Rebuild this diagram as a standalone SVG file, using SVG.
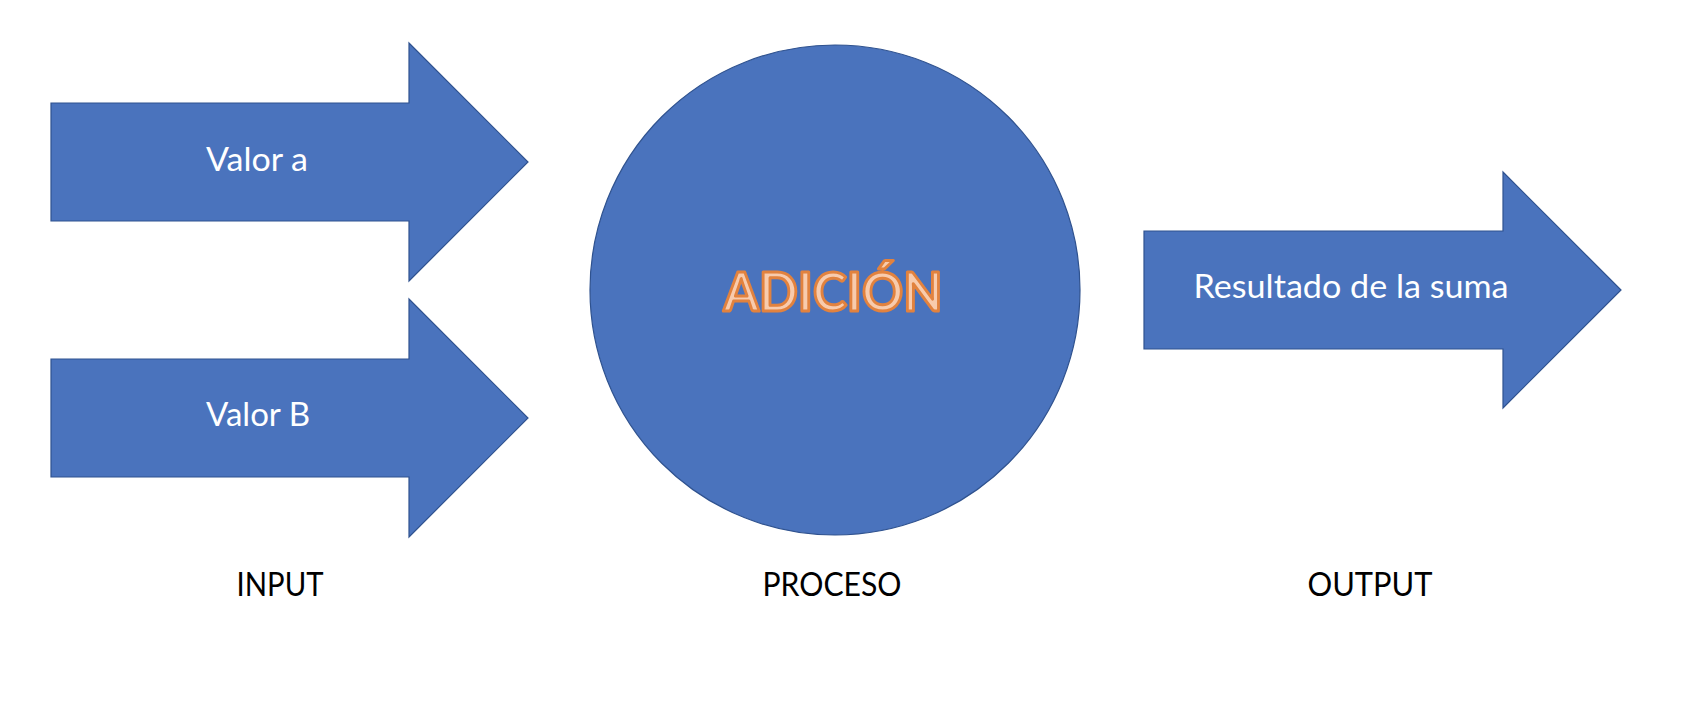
<svg xmlns="http://www.w3.org/2000/svg" width="1696" height="702" viewBox="0 0 1696 702">
  <style>
    .shape { fill: #4A73BD; stroke: #2F528F; stroke-width: 1.2; }
    .inner { font-family: Lato, "Open Sans", "Liberation Sans", sans-serif; font-size: 32px; fill: #FFFFFF; text-anchor: middle; }
    .caption { font-family: Lato, "Open Sans", "Liberation Sans", sans-serif; font-size: 32px; fill: #000000; text-anchor: middle; }
    .title { font-family: Lato, "Open Sans", "Liberation Sans", sans-serif; font-weight: bold; font-size: 54px; fill: #F8CBAD; stroke: #E2823E; stroke-width: 3; stroke-linejoin: round; text-anchor: middle; }
  </style>
  <rect width="1696" height="702" fill="#FFFFFF"/>

  <!-- input arrow A -->
  <g id="valor-a">
    <path class="shape" d="M51,103 H409 V43 L528,162 L409,281 V221 H51 Z"/>
    <text class="inner" x="257" y="171" textLength="102" lengthAdjust="spacingAndGlyphs">Valor a</text>
  </g>

  <!-- input arrow B -->
  <g id="valor-b">
    <path class="shape" d="M51,359 H409 V299 L528,418 L409,537 V477 H51 Z"/>
    <text class="inner" x="258" y="426" textLength="104" lengthAdjust="spacingAndGlyphs">Valor B</text>
  </g>

  <!-- process -->
  <g id="adicion">
    <circle class="shape" cx="835" cy="290" r="245"/>
    <text class="title" x="833" y="311" textLength="219" lengthAdjust="spacingAndGlyphs">ADICIÓN</text>
  </g>

  <!-- output arrow -->
  <g id="resultado">
    <path class="shape" d="M1144,231 H1503 V172 L1621,290 L1503,408 V349 H1144 Z"/>
    <text class="inner" x="1351" y="298" textLength="315" lengthAdjust="spacingAndGlyphs">Resultado de la suma</text>
  </g>

  <!-- column captions -->
  <g id="captions">
    <text class="caption" x="280" y="596" textLength="87" lengthAdjust="spacingAndGlyphs">INPUT</text>
    <text class="caption" x="832" y="596" textLength="139" lengthAdjust="spacingAndGlyphs">PROCESO</text>
    <text class="caption" x="1370" y="596" textLength="125" lengthAdjust="spacingAndGlyphs">OUTPUT</text>
  </g>

  <g id="connectors"/>
</svg>
